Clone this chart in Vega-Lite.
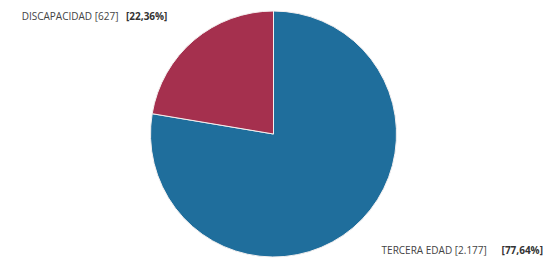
{
  "$schema": "https://vega.github.io/schema/vega-lite/v6.json",
  "autosize": {"type": "fit", "contains": "padding"},
  "width": 557,
  "height": 270,
  "padding": {"left": 0, "right": 10, "top": 0, "bottom": 2},
  "background": "white",
  "view": {"stroke": null},
  "data": {
    "values": [
      {"cat": "TERCERA EDAD", "value": 2177, "label": "TERCERA EDAD [2.177]", "pct": "[77,64%]"},
      {"cat": "DISCAPACIDAD", "value": 627, "label": "DISCAPACIDAD [627]", "pct": "[22,36%]"}
    ]
  },
  "encoding": {
    "theta": {"field": "value", "type": "quantitative", "stack": true},
    "order": {"field": "value", "type": "quantitative", "sort": "descending"}
  },
  "layer": [
    {
      "mark": {"type": "arc", "radius": 123, "stroke": "#f4f0f0", "strokeWidth": 1},
      "encoding": {
        "color": {
          "field": "cat",
          "type": "nominal",
          "scale": {"domain": ["TERCERA EDAD", "DISCAPACIDAD"], "range": ["#1f6e9c", "#a5304e"]},
          "legend": null
        }
      }
    },
    {
      "mark": {"type": "text", "radius": 158, "align": "right", "baseline": "middle", "dx": -4, "dy": 4, "font": "Open Sans", "fontSize": 10, "fontWeight": "bold", "color": "#333333"},
      "encoding": {
        "text": {"condition": {"test": "datum.cat === 'DISCAPACIDAD'", "field": "pct"}, "value": ""}
      }
    },
    {
      "mark": {"type": "text", "radius": 158, "align": "right", "baseline": "middle", "dx": -53, "dy": 4, "font": "Open Sans", "fontSize": 10, "color": "#444444"},
      "encoding": {
        "text": {"condition": {"test": "datum.cat === 'DISCAPACIDAD'", "field": "label"}, "value": ""}
      }
    },
    {
      "mark": {"type": "text", "radius": 158, "align": "left", "baseline": "middle", "dx": 6, "dy": -4, "font": "Open Sans", "fontSize": 10, "color": "#444444"},
      "encoding": {
        "text": {"condition": {"test": "datum.cat === 'TERCERA EDAD'", "field": "label"}, "value": ""}
      }
    },
    {
      "mark": {"type": "text", "radius": 158, "align": "left", "baseline": "middle", "dx": 126, "dy": -4, "font": "Open Sans", "fontSize": 10, "fontWeight": "bold", "color": "#333333"},
      "encoding": {
        "text": {"condition": {"test": "datum.cat === 'TERCERA EDAD'", "field": "pct"}, "value": ""}
      }
    }
  ]
}
